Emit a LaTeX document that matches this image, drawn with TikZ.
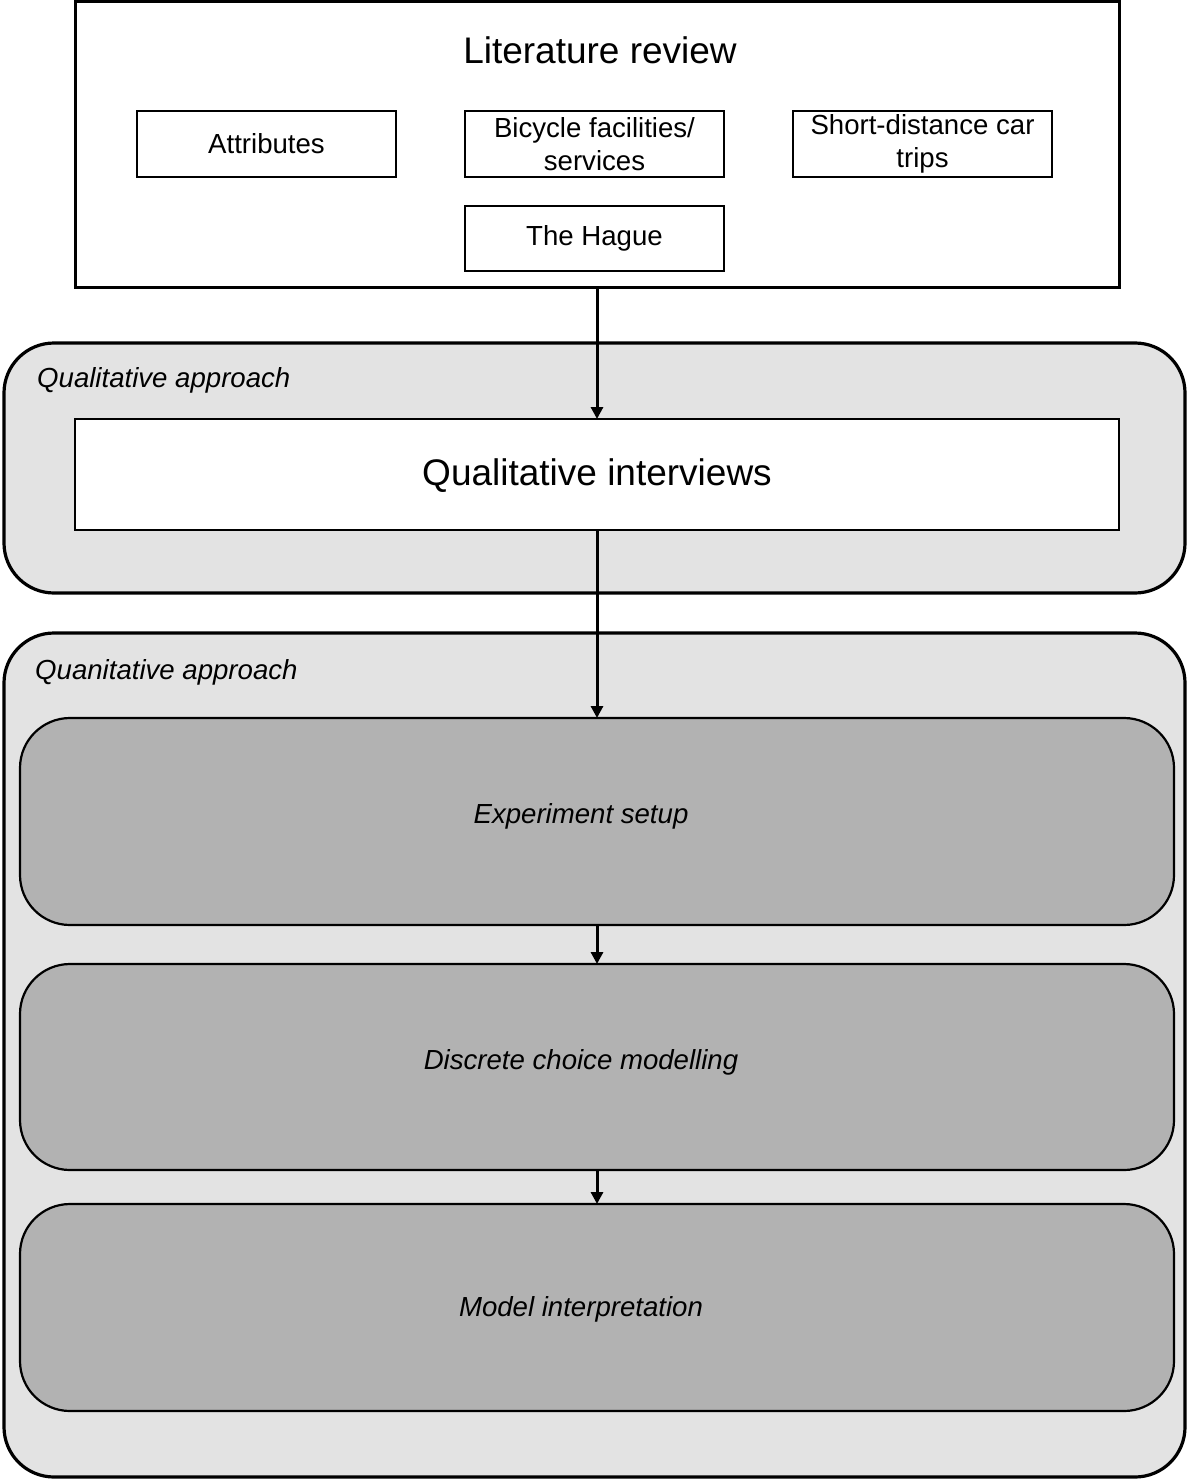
\documentclass[tikz,border=0pt]{standalone}
\usepackage{fontspec}
\setmainfont{Liberation Sans}
\usetikzlibrary{arrows.meta}
\begin{document}
\begin{tikzpicture}[x=1pt,y=-1pt,
  box/.style={draw, line width=1.6pt, inner sep=0pt, outer sep=0pt, anchor=north west, align=center,
    font=\fontsize{27.6}{33}\selectfont},
  bigbox/.style={draw, line width=3pt, inner sep=0pt, outer sep=0pt, anchor=north west, fill=white},
  container/.style={draw, line width=3.2pt, rounded corners=50pt, fill=black!11, inner sep=0pt, outer sep=0pt, anchor=north west},
  stepbox/.style={draw, line width=2.2pt, rounded corners=50pt, fill=black!30, inner sep=0pt, outer sep=0pt, anchor=north west},
  lbl/.style={font=\fontsize{27.6}{33}\selectfont\itshape, inner sep=0pt},
  big/.style={font=\fontsize{37}{44}\selectfont, inner sep=0pt},
  arr/.style={line width=3pt, -{Triangle[length=12pt,width=12pt]}}
]
\useasboundingbox (0,0) rectangle (1188,1479);
% literature review
\node[bigbox, minimum width=1044pt, minimum height=285pt] (lit) at (75,2) {};
\node[big] (littitle) at (600,50) {Literature review};
\node[box, minimum width=259pt, minimum height=66pt] (attr) at (137,111) {Attributes};
\node[box, minimum width=259pt, minimum height=66pt] (bike) at (465,111) {Bicycle facilities/\\services};
\node[box, minimum width=259pt, minimum height=66pt] (short) at (793,111) {Short-distance car\\trips};
\node[box, minimum width=259pt, minimum height=65pt] (hague) at (465,206) {The Hague};
% qualitative
\node[container, minimum width=1181pt, minimum height=250pt] (qual) at (4,343) {};
\node[lbl, anchor=west] (quallbl) at (37,380) {Qualitative approach};
\node[bigbox, line width=2pt, minimum width=1044pt, minimum height=111pt] (qi) at (75,419) {};
\node[big] (qitext) at (597,476) {Qualitative interviews};
% quantitative
\node[container, minimum width=1181pt, minimum height=844pt] (quant) at (4,633) {};
\node[lbl, anchor=west] (quantlbl) at (35,672) {Quanitative approach};
\node[stepbox, minimum width=1154pt, minimum height=207pt] (exp) at (20,718) {};
\node[lbl] (exptext) at (581,816) {Experiment setup};
\node[stepbox, minimum width=1154pt, minimum height=206pt] (dcm) at (20,964) {};
\node[lbl] (dcmtext) at (581,1062) {Discrete choice modelling};
\node[stepbox, minimum width=1154pt, minimum height=207pt] (mi) at (20,1204) {};
\node[lbl] (mitext) at (581,1309) {Model interpretation};
% arrows
\draw[arr] (lit.south) -- (qi.north);
\draw[arr] (qi.south) -- (exp.north);
\draw[arr] (exp.south) -- (dcm.north);
\draw[arr] (dcm.south) -- (mi.north);
\end{tikzpicture}
\end{document}
